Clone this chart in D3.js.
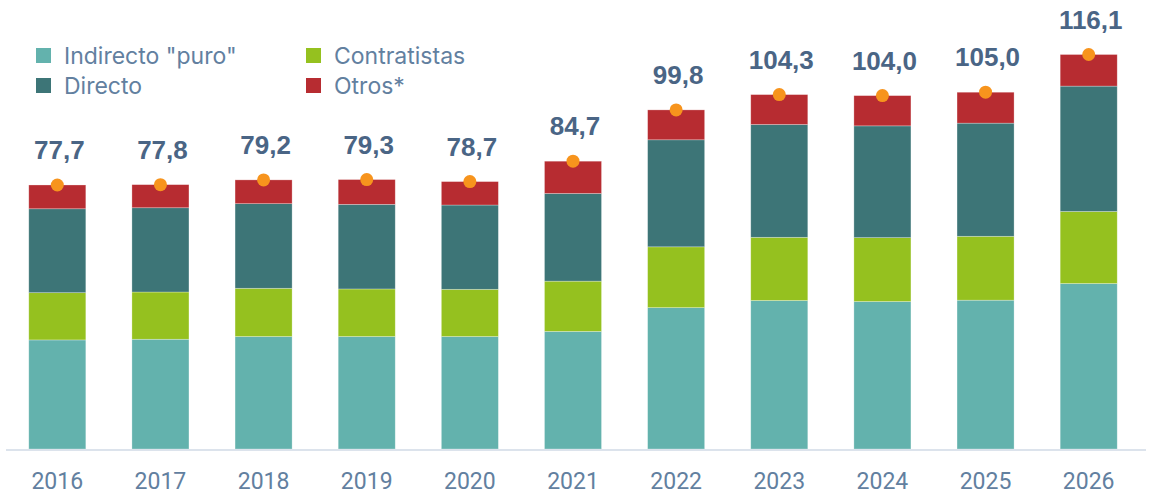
<!DOCTYPE html>
<html>
<head>
<meta charset="utf-8">
<script src="https://cdn.jsdelivr.net/npm/d3@7"></script>
<style>
  html, body { margin: 0; padding: 0; background: #fff; }
  svg { display: block; }
</style>
</head>
<body>
<div id="chart-container"></div>
<script>
(function () {
    'use strict';

    var years = ['2016', '2017', '2018', '2019', '2020', '2021', '2022', '2023', '2024', '2025', '2026'];
    var indirecto = [32.1, 32.3, 33.1, 33.1, 33.1, 34.6, 41.6, 43.7, 43.4, 43.8, 48.7];
    var contratistas = [13.9, 13.9, 14.2, 14.0, 13.9, 14.8, 17.9, 18.6, 18.8, 18.8, 21.2];
    var directo = [24.7, 24.8, 24.9, 24.9, 24.8, 25.8, 31.5, 33.2, 32.9, 33.3, 36.9];
    var otros = [7.0, 6.8, 7.0, 7.3, 6.9, 9.5, 8.8, 8.8, 8.9, 9.1, 9.3];
    var totals = [77.7, 77.8, 79.2, 79.3, 78.7, 84.7, 99.8, 104.3, 104.0, 105.0, 116.1];

    var seriesNames = ['Indirecto "puro"', 'Contratistas', 'Directo', 'Otros*'];
    var seriesKeys = ['indirecto', 'contratistas', 'directo', 'otros'];
    var colors = ['#63b2ad', '#95c11f', '#3d7577', '#b72c31'];

    var width = 1152;
    var height = 495;
    var baseline = 449;

    var rows = years.map(function (y, i) {
        return {
            year: y,
            indirecto: indirecto[i],
            contratistas: contratistas[i],
            directo: directo[i],
            otros: otros[i],
            total: totals[i]
        };
    });

    var x = d3.scaleBand()
        .domain(years)
        .range([3, 1143])
        .paddingInner(0.447)
        .paddingOuter(0.25);

    var y = d3.scaleLinear()
        .domain([0, 116.1])
        .range([baseline, 54.5]);

    var color = d3.scaleOrdinal().domain(seriesKeys).range(colors);

    var svg = d3.select('#chart-container')
        .append('svg')
        .attr('width', width)
        .attr('height', height);

    var stacked = d3.stack().keys(seriesKeys)(rows);

    svg.append('g')
        .selectAll('g')
        .data(stacked)
        .enter()
        .append('g')
        .attr('fill', function (d) { return color(d.key); })
        .selectAll('rect')
        .data(function (d) { return d; })
        .enter()
        .append('rect')
        .attr('x', function (d) { return x(d.data.year); })
        .attr('y', function (d) { return y(d[1]); })
        .attr('width', x.bandwidth())
        .attr('height', function (d) { return y(d[0]) - y(d[1]); })
        .style('stroke', '#fff')
        .style('stroke-opacity', 0.4)
        .style('stroke-width', 0.7);

    // axis line
    svg.append('line')
        .attr('x1', 6)
        .attr('x2', 1146)
        .attr('y1', baseline + 1)
        .attr('y2', baseline + 1)
        .style('stroke', '#dce3ec')
        .style('stroke-width', 2);

    var xAxis = d3.axisBottom(x).tickSize(0).tickPadding(0);
    var gx = svg.append('g')
        .attr('transform', 'translate(0,' + baseline + ')')
        .call(xAxis);
    gx.select('.domain').remove();
    gx.selectAll('text')
        .attr('dy', 0)
        .attr('y', 40)
        .style('font-family', 'Roboto, "Liberation Sans", sans-serif')
        .style('font-size', '23px')
        .style('fill', '#62809f');

    // totals dots
    svg.append('g')
        .selectAll('circle')
        .data(rows)
        .enter()
        .append('circle')
        .attr('cx', function (d) { return x(d.year) + x.bandwidth() / 2; })
        .attr('cy', function (d) { return y(d.total); })
        .attr('r', 6.5)
        .style('fill', '#f7941d');

    // totals labels
    svg.append('g')
        .selectAll('text')
        .data(rows)
        .enter()
        .append('text')
        .attr('x', function (d) { return x(d.year) + x.bandwidth() / 2 + 2; })
        .attr('y', function (d) { return y(d.total) - 26; })
        .attr('text-anchor', 'middle')
        .style('font-family', '"Liberation Sans", Arial, sans-serif')
        .style('font-weight', 'bold')
        .style('font-size', '26px')
        .style('fill', '#4a6585')
        .text(function (d) { return d.total.toFixed(1).replace('.', ','); });

    // legend
    var legendPos = [[36, 48], [306, 48], [36, 78], [306, 78]];
    var legend = svg.append('g')
        .selectAll('g')
        .data(seriesNames)
        .enter()
        .append('g')
        .attr('transform', function (d, i) {
            return 'translate(' + legendPos[i][0] + ',' + legendPos[i][1] + ')';
        });
    legend.append('rect')
        .attr('width', 15)
        .attr('height', 15)
        .style('fill', function (d, i) { return colors[i]; });
    legend.append('text')
        .attr('x', 28)
        .attr('y', 15.5)
        .style('font-family', 'Inter, Roboto, sans-serif')
        .style('font-size', '23px')
        .style('fill', '#62809f')
        .text(function (d) { return d; });
}());
</script>
</body>
</html>
